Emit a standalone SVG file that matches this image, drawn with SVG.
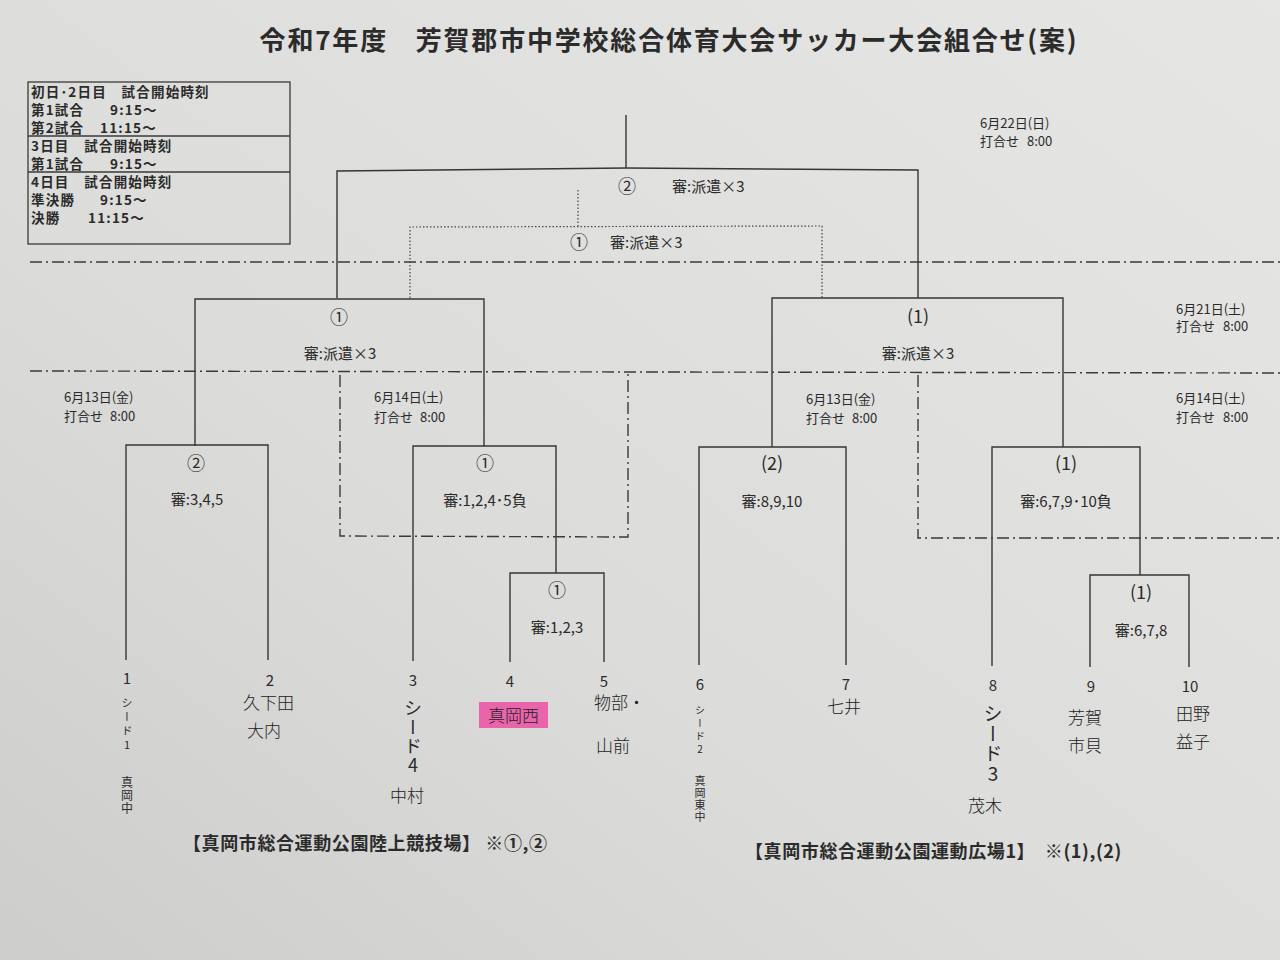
<svg xmlns="http://www.w3.org/2000/svg" width="1280" height="960" viewBox="0 0 1280 960">
<defs>
<linearGradient id="paper" x1="1" y1="0" x2="0" y2="1">
<stop offset="0" stop-color="#e6e6e4"/>
<stop offset="0.6" stop-color="#dcdcda"/>
<stop offset="1" stop-color="#cdcdcb"/>
</linearGradient>
<style>
.ln{fill:none;stroke:#363636;stroke-width:1.4}
.dot{fill:none;stroke:#444;stroke-width:1.2;stroke-dasharray:1.5 2}
.dd{fill:none;stroke:#3a3a3a;stroke-width:1.4;stroke-dasharray:12 4 2 4}
.t{font-family:"Noto Sans CJK JP","Noto Sans",sans-serif;fill:#2b2b2b}
.title{font-size:26px;font-weight:700;letter-spacing:1.8px}
.info{font-size:13.5px;font-weight:700;letter-spacing:1.2px}
.lbl{font-size:15px}
.big{font-size:18px}
.date{font-size:13px}
.num{font-size:15px;text-anchor:middle}
.hw{font-family:"Noto Sans CJK JP",sans-serif;font-weight:300;fill:#222;font-size:17px}
.vs{writing-mode:vertical-rl;text-orientation:upright}
.ven{font-size:18px;font-weight:700;letter-spacing:0.6px}
.mid{text-anchor:middle}
</style>
</defs>
<rect width="1280" height="960" fill="url(#paper)"/>

<text class="t title" x="669" y="50" text-anchor="middle">令和7年度　芳賀郡市中学校総合体育大会サッカー大会組合せ(案)</text>

<g id="schedule">
<rect x="28" y="82" width="262" height="162" fill="none" stroke="#3a3a3a" stroke-width="1.3"/>
<line x1="28" y1="136" x2="290" y2="136" stroke="#3a3a3a" stroke-width="1.3"/>
<line x1="28" y1="172" x2="290" y2="172" stroke="#3a3a3a" stroke-width="1.3"/>
<text class="t info" x="31" y="97">初日･2日目　試合開始時刻</text>
<text class="t info" x="31" y="115">第1試合</text><text class="t info" x="110" y="115">9:15～</text>
<text class="t info" x="31" y="133">第2試合</text><text class="t info" x="100" y="133">11:15～</text>
<text class="t info" x="31" y="151">3日目　試合開始時刻</text>
<text class="t info" x="31" y="169">第1試合</text><text class="t info" x="110" y="169">9:15～</text>
<text class="t info" x="31" y="187">4日目　試合開始時刻</text>
<text class="t info" x="31" y="205">準決勝</text><text class="t info" x="100" y="205">9:15～</text>
<text class="t info" x="31" y="223">決勝</text><text class="t info" x="88" y="223">11:15～</text>
</g>

<g id="connectors">
<polyline class="ln" points="626,115 626,168"/>
<polyline class="ln" points="337,298 337,171 626,168 918,170 918,298"/>
<polyline class="dot" points="578,190 578,226"/>
<polyline class="dot" points="410,298 410,227 822,226 822,298"/>
<polyline class="ln" points="195,446 195,299 484,299 484,446"/>
<polyline class="ln" points="772,447 772,298 1063,298 1063,447"/>
<polyline class="ln" points="126,660 126,445 268,445 268,660"/>
<polyline class="ln" points="413,661 413,446 556,446 556,573"/>
<polyline class="ln" points="510,662 510,573 604,573 604,662"/>
<polyline class="ln" points="699,665 699,447 846,447 846,665"/>
<polyline class="ln" points="992,666 992,447 1140,447 1140,575"/>
<polyline class="ln" points="1090,667 1090,575 1189,575 1189,667"/>
</g>

<g id="day-lines">
<line class="dd" x1="30" y1="262" x2="1280" y2="262"/>
<line class="dd" x1="30" y1="371" x2="1280" y2="373"/>
<polyline class="dd" points="340,375 340,536 628,537 628,373"/>
<polyline class="dd" points="918,375 918,538 1280,538"/>
</g>

<g id="dates">
<text class="t date" x="980" y="128">6月22日(日)</text>
<text class="t date" x="980" y="146">打合せ</text><text class="t date" x="1027" y="146">8:00</text>
<text class="t date" x="1176" y="314">6月21日(土)</text>
<text class="t date" x="1176" y="331">打合せ</text><text class="t date" x="1223" y="331">8:00</text>
<text class="t date" x="64" y="402">6月13日(金)</text>
<text class="t date" x="64" y="421">打合せ</text><text class="t date" x="110" y="421">8:00</text>
<text class="t date" x="374" y="402">6月14日(土)</text>
<text class="t date" x="374" y="422">打合せ</text><text class="t date" x="420" y="422">8:00</text>
<text class="t date" x="806" y="404">6月13日(金)</text>
<text class="t date" x="806" y="423">打合せ</text><text class="t date" x="852" y="423">8:00</text>
<text class="t date" x="1176" y="403">6月14日(土)</text>
<text class="t date" x="1176" y="422">打合せ</text><text class="t date" x="1223" y="422">8:00</text>
</g>

<g id="match-final">
<text class="t big" x="627" y="193" text-anchor="middle">②</text>
<text class="t lbl" x="672" y="192">審:派遣×3</text>
</g>
<g id="match-third">
<text class="t big" x="579" y="249" text-anchor="middle">①</text>
<text class="t lbl" x="610" y="248">審:派遣×3</text>
</g>
<g id="match-sf-left">
<text class="t big mid" x="339" y="324">①</text>
<text class="t lbl mid" x="340" y="359">審:派遣×3</text>
</g>
<g id="match-sf-right">
<text class="t big mid" x="918" y="323">(1)</text>
<text class="t lbl mid" x="918" y="359">審:派遣×3</text>
</g>
<g id="match-1-2">
<text class="t big mid" x="196" y="470">②</text>
<text class="t lbl mid" x="197" y="505">審:3,4,5</text>
</g>
<g id="match-3-45">
<text class="t big mid" x="485" y="470">①</text>
<text class="t lbl mid" x="485" y="506">審:1,2,4･5負</text>
</g>
<g id="match-4-5">
<text class="t big mid" x="557" y="597">①</text>
<text class="t lbl mid" x="557" y="633">審:1,2,3</text>
</g>
<g id="match-6-7">
<text class="t big mid" x="772" y="470">(2)</text>
<text class="t lbl mid" x="772" y="507">審:8,9,10</text>
</g>
<g id="match-8-910">
<text class="t big mid" x="1066" y="470">(1)</text>
<text class="t lbl mid" x="1066" y="507">審:6,7,9･10負</text>
</g>
<g id="match-9-10">
<text class="t big mid" x="1141" y="599">(1)</text>
<text class="t lbl mid" x="1141" y="636">審:6,7,8</text>
</g>

<g id="team-1">
<text class="t num" x="127" y="684">1</text>
<text class="t vs" x="127" y="697" font-size="11" letter-spacing="3">シード1</text>
<text class="t vs" x="127" y="776" font-size="12" letter-spacing="1">真岡中</text>
</g>
<g id="team-2">
<text class="t num" x="270" y="686">2</text>
<text class="hw" x="243" y="709" font-size="16">久下田</text>
<text class="hw" x="247" y="737">大内</text>
</g>
<g id="team-3">
<text class="t num" x="413" y="686">3</text>
<text class="t vs" x="413" y="699" font-size="18" letter-spacing="1">シード4</text>
<text class="hw" x="390" y="802">中村</text>
</g>
<g id="team-4">
<text class="t num" x="510" y="687">4</text>
<rect x="479" y="702" width="69" height="26" fill="#ec4fa4" opacity="0.85"/>
<text class="hw" x="488" y="722">真岡西</text>
</g>
<g id="team-5">
<text class="t num" x="604" y="687">5</text>
<text class="hw" x="594" y="709" font-size="16">物部・</text>
<text class="hw" x="596" y="752" font-size="16">山前</text>
</g>
<g id="team-6">
<text class="t num" x="700" y="690">6</text>
<text class="t vs" x="700" y="705" font-size="10" letter-spacing="3">シード2</text>
<text class="t vs" x="700" y="775" font-size="11" letter-spacing="1">真岡東中</text>
</g>
<g id="team-7">
<text class="t num" x="846" y="690">7</text>
<text class="hw" x="827" y="713">七井</text>
</g>
<g id="team-8">
<text class="t num" x="993" y="691">8</text>
<text class="t vs" x="993" y="704" font-size="19" letter-spacing="1">シード3</text>
<text class="hw" x="968" y="812">茂木</text>
</g>
<g id="team-9">
<text class="t num" x="1091" y="692">9</text>
<text class="hw" x="1068" y="724">芳賀</text>
<text class="hw" x="1068" y="752">市貝</text>
</g>
<g id="team-10">
<text class="t num" x="1190" y="692">10</text>
<text class="hw" x="1176" y="720">田野</text>
<text class="hw" x="1176" y="748">益子</text>
</g>

<g id="venues">
<text class="t ven" x="183" y="850">【真岡市総合運動公園陸上競技場】 ※①,②</text>
<text class="t ven" x="745" y="858">【真岡市総合運動公園運動広場1】　※(1),(2)</text>
</g>
</svg>
